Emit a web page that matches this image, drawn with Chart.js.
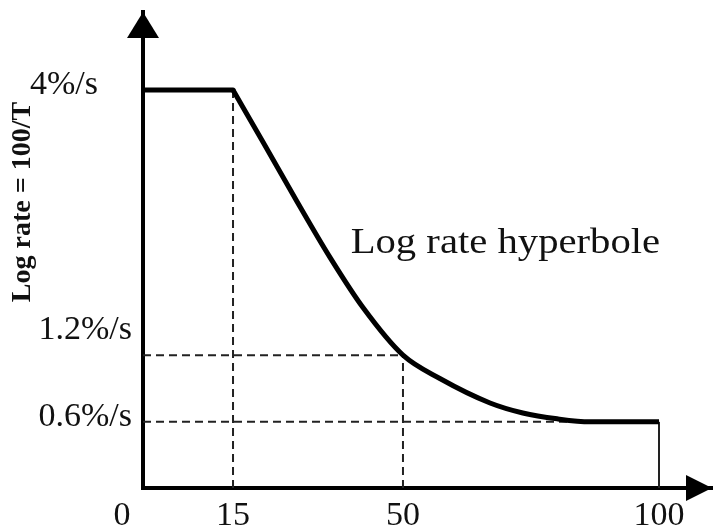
<!DOCTYPE html>
<html>
<head>
<meta charset="utf-8">
<script src="https://cdn.jsdelivr.net/npm/chart.js@4.4.1/dist/chart.umd.min.js"></script>
<style>
  html, body { margin: 0; padding: 0; background: #fff; }
  canvas { display: block; }
</style>
</head>
<body>
<canvas id="chart" width="714" height="531"></canvas>
<script>
// values
var xTicks = [15, 50, 100];
var xTickLabels = ['15', '50', '100'];
var originLabel = '0';
var yTicks = [0.6, 1.2, 4];
var yTickLabels = ['0.6%/s', '1.2%/s', '4%/s'];
var yTitle = 'Log rate = 100/T';
var curveLabel = 'Log rate hyperbole';

var xStart = -3; // where the y axis sits
var plateauX = [xStart, 15];
var plateauY = [4, 4];
var curveX = [15, 21.2, 28.2, 35, 41.8, 50, 57.2, 67, 73.4, 80.1, 86.5, 100];
var curveY = [4, 3.45, 2.82, 2.23, 1.7, 1.2, 0.99, 0.77, 0.68, 0.627, 0.6, 0.6];

// dashed guide lines
var guide15X = [15, 15], guide15Y = [0, 4];
var guide50X = [50, 50], guide50Y = [0, 1.2];
var level12X = [xStart, 50], level12Y = [1.2, 1.2];
var level06X = [xStart, 100], level06Y = [0.6, 0.6];
var end100X = [100, 100], end100Y = [0, 0.6];

function pts(xs, ys) {
  return xs.map(function(x, i) { return { x: x, y: ys[i] }; });
}

// the figure is a sketch, not to scale: piecewise mapping between the labelled values
var warpKnots = {
  x: { vals: [xStart, 15, 50, 100, 110.4], pos: [0, 0.1582, 0.4569, 0.9069, 1] },
  y: { vals: [0, 0.6, 1.2, 4, 4.82], pos: [0, 0.139, 0.279, 0.836, 1] }
};

function interp(xs, ys, v) {
  for (var i = 1; i < xs.length; i++) {
    if (v <= xs[i] || i === xs.length - 1) {
      return ys[i - 1] + (v - xs[i - 1]) * (ys[i] - ys[i - 1]) / (xs[i] - xs[i - 1]);
    }
  }
}

class WarpScale extends Chart.LinearScale {
  getPixelForValue(v) {
    var k = warpKnots[this.id];
    return this.getPixelForDecimal(interp(k.vals, k.pos, v));
  }
  getValueForPixel(p) {
    var k = warpKnots[this.id];
    return interp(k.pos, k.vals, this.getDecimalForPixel(p));
  }
}
WarpScale.id = 'warp';
WarpScale.defaults = Chart.LinearScale.defaults;
Chart.register(WarpScale);

var serif = '"Liberation Serif", "Times New Roman", serif';

var decor = {
  id: 'decor',
  afterDatasetsDraw: function(chart) {
    var ctx = chart.ctx, a = chart.chartArea;
    var x = chart.scales.x, y = chart.scales.y;
    ctx.save();
    ctx.fillStyle = '#000';
    // arrow heads
    ctx.beginPath();
    ctx.moveTo(a.left, a.top);
    ctx.lineTo(a.left - 16, a.top + 26);
    ctx.lineTo(a.left + 16, a.top + 26);
    ctx.closePath();
    ctx.fill();
    ctx.beginPath();
    ctx.moveTo(a.right, a.bottom);
    ctx.lineTo(a.right - 26, a.bottom - 13);
    ctx.lineTo(a.right - 26, a.bottom + 13);
    ctx.closePath();
    ctx.fill();

    ctx.fillStyle = '#111';
    ctx.textAlign = 'center';
    ctx.textBaseline = 'middle';
    ctx.font = '34px ' + serif;
    ctx.fillText(originLabel, a.left - 21, a.bottom + 28);

    ctx.save();
    ctx.translate(x.getPixelForValue(70), y.getPixelForValue(2.38));
    ctx.scale(1.13, 1);
    ctx.font = '36px ' + serif;
    ctx.fillText(curveLabel, 0, 0);
    ctx.restore();

    ctx.translate(23, 202);
    ctx.rotate(-Math.PI / 2);
    ctx.font = 'bold 28px ' + serif;
    ctx.fillText(yTitle, 0, 0);
    ctx.restore();
  }
};

var dash = { borderColor: '#222', borderWidth: 2, borderDash: [8, 5], pointRadius: 0, fill: false };

new Chart(document.getElementById('chart'), {
  type: 'line',
  data: {
    datasets: [
      { data: pts(curveX, curveY), borderColor: '#000', borderWidth: 5, pointRadius: 0,
        cubicInterpolationMode: 'monotone', borderCapStyle: 'butt', fill: false },
      { data: pts(plateauX, plateauY), borderColor: '#000', borderWidth: 5, pointRadius: 0,
        borderCapStyle: 'round', fill: false },
      Object.assign({ data: pts(guide15X, guide15Y) }, dash),
      Object.assign({ data: pts(guide50X, guide50Y) }, dash),
      Object.assign({ data: pts(level12X, level12Y) }, dash),
      Object.assign({ data: pts(level06X, level06Y) }, dash),
      { data: pts(end100X, end100Y), borderColor: '#222', borderWidth: 2, pointRadius: 0, fill: false }
    ]
  },
  options: {
    responsive: false,
    animation: false,
    layout: { autoPadding: false, padding: { top: 12, right: 2, left: 0, bottom: 0 } },
    plugins: { legend: { display: false }, tooltip: { enabled: false } },
    scales: {
      x: {
        type: 'warp',
        min: xStart,
        max: 110.4,
        grid: { display: false, drawTicks: false },
        border: { display: true, color: '#000', width: 4 },
        afterBuildTicks: function(s) {
          s.ticks = xTicks.map(function(v) { return { value: v }; });
        },
        afterFit: function(s) {
          s.height = 43;
          s.paddingLeft = 0;
          s.paddingRight = 0;
        },
        ticks: {
          autoSkip: false,
          maxRotation: 0,
          padding: 8,
          color: '#111',
          font: { family: serif, size: 34 },
          callback: function(v) { return xTickLabels[xTicks.indexOf(v)]; }
        }
      },
      y: {
        type: 'warp',
        min: 0,
        max: 4.82,
        grid: { display: false, drawTicks: false },
        border: { display: true, color: '#000', width: 4 },
        afterBuildTicks: function(s) {
          s.ticks = yTicks.map(function(v) { return { value: v }; });
        },
        afterFit: function(s) {
          s.width = 143;
          s.paddingTop = 0;
          s.paddingBottom = 0;
        },
        ticks: {
          autoSkip: false,
          padding: 11,
          labelOffset: -5,
          color: '#111',
          font: { family: serif, size: 34 },
          callback: function(v) {
            var t = yTickLabels[yTicks.indexOf(v)];
            if (v === 1.2) return [t, ''];
            if (v === 4) return t + '    ';
            return t;
          }
        }
      }
    }
  },
  plugins: [decor]
});
</script>
</body>
</html>
